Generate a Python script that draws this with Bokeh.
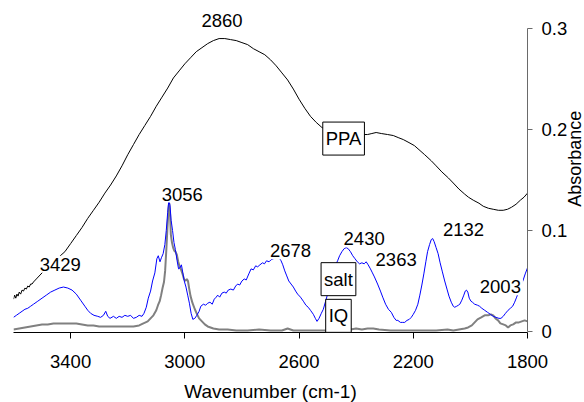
import math
from bokeh.plotting import figure
from bokeh.layouts import row
from bokeh.models import Range1d, FixedTicker, Label
from bokeh.embed import file_html
from bokeh.resources import INLINE

# ---------------- data (wavenumber cm-1, absorbance) ----------------
ppa_x = [3600, 3596, 3592, 3588, 3584, 3580, 3575, 3570, 3565, 3560, 3555, 3550, 3545, 3540,
         3535, 3530, 3520, 3500, 3480, 3460, 3440, 3420, 3400, 3380, 3360, 3340, 3320, 3300,
         3280, 3260, 3240, 3220, 3200, 3180, 3160, 3140, 3120, 3100, 3080, 3060, 3040, 3020,
         3000, 2980, 2960, 2940, 2920, 2900, 2880, 2860, 2840, 2820, 2800, 2780, 2760, 2740,
         2720, 2700, 2680, 2660, 2640, 2620, 2600, 2580, 2560, 2540, 2520, 2500, 2480, 2460,
         2440, 2420, 2400, 2380, 2360, 2345, 2330, 2312, 2290, 2270, 2253, 2235, 2215, 2196,
         2180, 2160, 2137, 2120, 2100, 2077, 2060, 2040, 2020, 2007, 1990, 1970, 1955, 1937,
         1920, 1902, 1885, 1870, 1856, 1840, 1825, 1812, 1800]
ppa_y = [0.032, 0.036, 0.033, 0.037, 0.035, 0.039, 0.037, 0.041, 0.040, 0.043, 0.042, 0.045, 0.044, 0.047,
         0.047, 0.049, 0.052, 0.058, 0.064, 0.069, 0.074, 0.079, 0.087, 0.095, 0.103, 0.112, 0.120, 0.128,
         0.137, 0.145, 0.154, 0.164, 0.175, 0.185, 0.195, 0.204, 0.213, 0.223, 0.232, 0.241, 0.251, 0.258,
         0.265, 0.271, 0.277, 0.281, 0.285, 0.288, 0.290, 0.290, 0.289, 0.288, 0.286, 0.284, 0.280, 0.277,
         0.274, 0.269, 0.263, 0.256, 0.249, 0.240, 0.230, 0.221, 0.213, 0.207, 0.202, 0.199, 0.197, 0.196,
         0.195, 0.195, 0.195, 0.195, 0.195, 0.196, 0.197, 0.196, 0.195, 0.194, 0.192, 0.190, 0.187, 0.184,
         0.180, 0.175, 0.169, 0.164, 0.158, 0.152, 0.147, 0.141, 0.136, 0.133, 0.130, 0.127, 0.124, 0.122,
         0.121, 0.120, 0.120, 0.121, 0.123, 0.126, 0.130, 0.133, 0.137]

salt_x = [3600, 3590, 3580, 3570, 3560, 3550, 3540, 3530, 3515, 3500, 3485, 3470, 3455, 3440,
          3425, 3410, 3395, 3380, 3365, 3350, 3340, 3330, 3318, 3305, 3295, 3285, 3277, 3270,
          3262, 3250, 3240, 3230, 3220, 3210, 3200, 3190, 3180, 3170, 3160, 3150, 3143, 3135,
          3128, 3120, 3113, 3105, 3098, 3093, 3087, 3082, 3076, 3070, 3065, 3060, 3056, 3052,
          3048, 3043, 3038, 3033, 3027, 3022, 3017, 3012, 3007, 3002, 2996, 2990, 2984, 2978,
          2972, 2965, 2958, 2950, 2944, 2935, 2927, 2920, 2912, 2904, 2897, 2890, 2885, 2878,
          2870, 2862, 2855, 2848, 2839, 2830, 2822, 2815, 2808, 2800, 2792, 2785, 2776, 2768,
          2760, 2752, 2745, 2737, 2728, 2721, 2714, 2705, 2698, 2690, 2683, 2677, 2670, 2663,
          2657, 2650, 2643, 2636, 2628, 2620, 2612, 2605, 2595, 2585, 2576, 2568, 2560, 2550,
          2543, 2537, 2530, 2522, 2515, 2507, 2500, 2490, 2480, 2472, 2465, 2458, 2450, 2442,
          2435, 2428, 2420, 2412, 2404, 2396, 2388, 2380, 2372, 2365, 2358, 2350, 2343, 2336,
          2325, 2315, 2307, 2297, 2287, 2277, 2268, 2260, 2254, 2245, 2237, 2230, 2222, 2214,
          2207, 2200, 2192, 2184, 2177, 2170, 2163, 2156, 2150, 2143, 2137, 2132, 2127, 2120,
          2113, 2106, 2098, 2090, 2082, 2075, 2067, 2060, 2055, 2048, 2042, 2037, 2030, 2023,
          2018, 2014, 2009, 2004, 1998, 1993, 1985, 1975, 1968, 1960, 1950, 1940, 1930, 1920,
          1910, 1900, 1893, 1885, 1877, 1868, 1860, 1852, 1845, 1838, 1830, 1822, 1815, 1808, 1800]
salt_y = [0.014, 0.016, 0.018, 0.020, 0.022, 0.023, 0.025, 0.027, 0.030, 0.033, 0.036, 0.039, 0.041, 0.043,
          0.044, 0.043, 0.041, 0.037, 0.031, 0.025, 0.021, 0.018, 0.016, 0.015, 0.014, 0.016, 0.020, 0.015,
          0.013, 0.015, 0.013, 0.015, 0.014, 0.016, 0.015, 0.016, 0.013, 0.014, 0.016, 0.015, 0.018, 0.024,
          0.033, 0.040, 0.050, 0.058, 0.072, 0.075, 0.069, 0.073, 0.077, 0.086, 0.100, 0.118, 0.130, 0.125,
          0.110, 0.100, 0.088, 0.081, 0.070, 0.062, 0.063, 0.066, 0.058, 0.050, 0.044, 0.036, 0.028, 0.018,
          0.012, 0.013, 0.016, 0.020, 0.025, 0.027, 0.026, 0.028, 0.029, 0.027, 0.032, 0.034, 0.036, 0.034,
          0.038, 0.039, 0.038, 0.041, 0.042, 0.041, 0.045, 0.047, 0.046, 0.050, 0.052, 0.051, 0.057, 0.062,
          0.061, 0.065, 0.064, 0.066, 0.068, 0.067, 0.070, 0.069, 0.071, 0.072, 0.073, 0.074, 0.073, 0.070,
          0.066, 0.060, 0.055, 0.050, 0.047, 0.044, 0.040, 0.037, 0.034, 0.030, 0.026, 0.024, 0.021, 0.017,
          0.013, 0.010, 0.013, 0.018, 0.022, 0.030, 0.037, 0.048, 0.058, 0.066, 0.070, 0.075, 0.079, 0.082,
          0.083, 0.082, 0.079, 0.075, 0.072, 0.069, 0.067, 0.068, 0.067, 0.069, 0.066, 0.062, 0.058, 0.054,
          0.047, 0.040, 0.034, 0.027, 0.022, 0.019, 0.014, 0.011, 0.011, 0.009, 0.009, 0.009, 0.011, 0.012,
          0.014, 0.017, 0.021, 0.027, 0.036, 0.046, 0.057, 0.069, 0.079, 0.086, 0.091, 0.092, 0.089, 0.083,
          0.077, 0.068, 0.059, 0.050, 0.042, 0.035, 0.029, 0.025, 0.024, 0.025, 0.026, 0.027, 0.031, 0.036,
          0.040, 0.041, 0.039, 0.033, 0.030, 0.029, 0.027, 0.026, 0.025, 0.023, 0.021, 0.019, 0.017, 0.015,
          0.014, 0.013, 0.013, 0.015, 0.018, 0.021, 0.023, 0.025, 0.029, 0.034, 0.040, 0.046, 0.051, 0.057, 0.063]

iq_x = [3600, 3580, 3560, 3540, 3520, 3500, 3480, 3460, 3440, 3420, 3400, 3380, 3360, 3340,
        3320, 3300, 3280, 3260, 3240, 3220, 3200, 3180, 3160, 3145, 3130, 3120, 3110, 3100,
        3094, 3088, 3083, 3078, 3073, 3069, 3065, 3061, 3057, 3055, 3052, 3049, 3045, 3041,
        3037, 3033, 3028, 3023, 3018, 3013, 3008, 3003, 2998, 2993, 2989, 2985, 2980, 2973,
        2965, 2957, 2950, 2940, 2930, 2920, 2900, 2880, 2850, 2820, 2780, 2740, 2700, 2660,
        2640, 2620, 2580, 2540, 2500, 2460, 2440, 2420, 2400, 2380, 2360, 2340, 2320, 2280,
        2240, 2200, 2160, 2120, 2080, 2060, 2040, 2020, 2008, 1995, 1985, 1975, 1962, 1950,
        1938, 1928, 1920, 1912, 1903, 1895, 1885, 1876, 1868, 1860, 1850, 1840, 1830, 1820,
        1810, 1800]
iq_y = [0.002, 0.003, 0.004, 0.005, 0.006, 0.007, 0.007, 0.008, 0.008, 0.008, 0.008, 0.008, 0.007, 0.006,
        0.006, 0.005, 0.005, 0.005, 0.005, 0.005, 0.005, 0.005, 0.006, 0.008, 0.010, 0.013, 0.016, 0.021,
        0.026, 0.030, 0.036, 0.043, 0.049, 0.060, 0.080, 0.102, 0.122, 0.127, 0.118, 0.096, 0.088, 0.083,
        0.080, 0.079, 0.076, 0.069, 0.064, 0.061, 0.057, 0.052, 0.050, 0.052, 0.050, 0.043, 0.035, 0.028,
        0.022, 0.017, 0.013, 0.010, 0.007, 0.005, 0.003, 0.002, 0.002, 0.001, 0.001, 0.002, 0.001, 0.001,
        0.003, 0.001, 0.001, 0.001, 0.001, 0.002, 0.003, 0.002, 0.003, 0.002, 0.003, 0.003, 0.002, 0.001,
        0.001, 0.001, 0.001, 0.001, 0.002, 0.001, 0.002, 0.003, 0.004, 0.006, 0.009, 0.012, 0.014, 0.016,
        0.016, 0.017, 0.016, 0.013, 0.011, 0.008, 0.007, 0.006, 0.004, 0.006, 0.007, 0.009, 0.009, 0.010,
        0.011, 0.010]

x_ticks = [3400, 3000, 2600, 2200, 1800]
x_tick_labels = ["3400", "3000", "2600", "2200", "1800"]
y_ticks = [0, 0.1, 0.2, 0.3]
y_tick_labels = ["0", "0.1", "0.2", "0.3"]

peak_labels = ["2860", "3056", "3429", "2678", "2430", "2363", "2132", "2003"]
series_names = ["PPA", "salt", "IQ"]
x_title = "Wavenumber (cm-1)"
y_title = "Absorbance"

# ---------------- layout (annotation anchors in data units) ----------------
peak_pos = [(2870, 0.308), (3009, 0.136), (3436, 0.0666), (2630, 0.080),
            (2372, 0.0918), (2260, 0.071), (2024, 0.101), (1895, 0.0443)]
name_pos = [(2444, 0.191), (2462, 0.0518), (2462, 0.0155)]

FONT = "Liberation Sans"
Y_RANGE = Range1d(-0.001, 0.3267)

p = figure(frame_width=514, frame_height=331,
           x_range=Range1d(3600, 1800), y_range=Y_RANGE,
           y_axis_location="right", output_backend="svg", toolbar_location=None,
           title=None, min_border_left=13, min_border_right=41,
           min_border_top=1, min_border_bottom=60)
p.outline_line_color = None
p.xgrid.visible = False
p.ygrid.visible = False
p.background_fill_color = "white"
p.border_fill_color = "white"

p.line(iq_x, iq_y, line_color="#808080", line_width=2)
p.line(salt_x, salt_y, line_color="#0000ff", line_width=1)
p.line(ppa_x, ppa_y, line_color="black", line_width=1)

xa = p.xaxis[0]
xa.ticker = FixedTicker(ticks=x_ticks)
xa.major_label_overrides = {t: l for t, l in zip(x_ticks, x_tick_labels)}
xa.minor_tick_line_color = None
xa.major_tick_in = 0
xa.major_tick_out = 6
xa.axis_line_color = "black"
xa.major_tick_line_color = "black"
xa.major_label_text_font = FONT
xa.major_label_text_font_size = "18.5px"
xa.major_label_text_color = "black"
xa.major_label_standoff = 16
xa.axis_label = x_title
xa.axis_label_text_font = FONT
xa.axis_label_text_font_size = "19px"
xa.axis_label_text_font_style = "normal"
xa.axis_label_text_color = "black"
xa.axis_label_standoff = 10

ya = p.yaxis[0]
ya.ticker = FixedTicker(ticks=y_ticks)
ya.bounds = (0, 0.3)
ya.major_label_overrides = {t: l for t, l in zip(y_ticks, y_tick_labels)}
ya.minor_tick_line_color = None
ya.major_tick_in = 0
ya.major_tick_out = 5
ya.axis_line_color = "#6a6a6a"
ya.major_tick_line_color = "#6a6a6a"
ya.major_label_text_font = FONT
ya.major_label_text_font_size = "18.5px"
ya.major_label_text_color = "black"
ya.major_label_standoff = 9

for txt, (lx, ly) in zip(peak_labels, peak_pos):
    p.add_layout(Label(x=lx, y=ly, text=txt, text_align="center", text_baseline="middle",
                       text_font=FONT, text_font_size="18.5px", text_color="black",
                       background_fill_color="white", padding=2))

for txt, (lx, ly) in zip(series_names, name_pos):
    p.add_layout(Label(x=lx, y=ly, text=txt, text_align="center", text_baseline="middle",
                       text_font=FONT, text_font_size="18.5px", text_color="black",
                       background_fill_color="white", border_line_color="black",
                       border_line_width=1, padding=(3, 6)))

# transparent strip on the right (slightly overlapping the main plot's border)
# that carries the vertical axis title
p2 = figure(frame_width=24, frame_height=331, x_range=Range1d(0, 24), y_range=Y_RANGE,
            x_axis_type=None, y_axis_type=None, output_backend="svg", toolbar_location=None,
            title=None, min_border_left=0, min_border_right=0, min_border_top=1,
            min_border_bottom=0, margin=(0, 0, 0, -10))
p2.outline_line_color = None
p2.background_fill_alpha = 0
p2.border_fill_alpha = 0
p2.add_layout(Label(x=14.5, y=0.171, text=y_title, angle=math.pi / 2, text_align="center",
                    text_baseline="middle", text_font=FONT, text_font_size="18px",
                    text_color="black"))

layout = row(p, p2)
open("out.html", "w").write(file_html(layout, INLINE))
